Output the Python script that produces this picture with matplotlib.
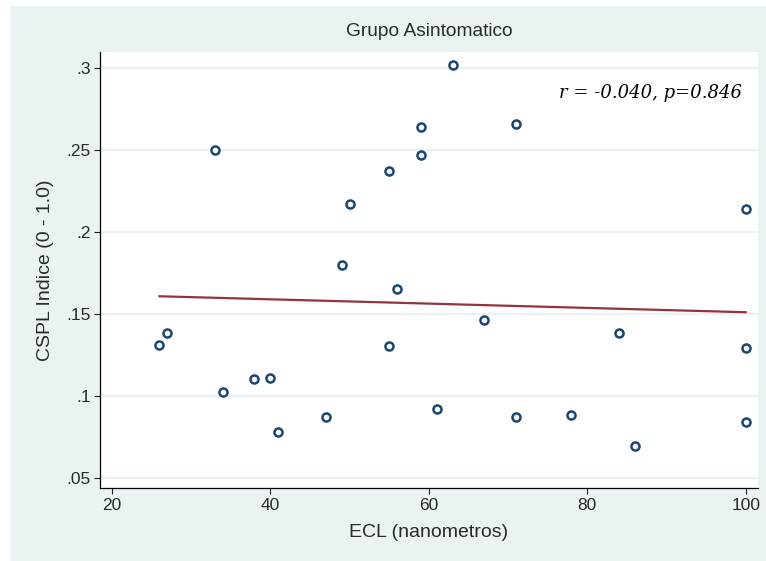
import matplotlib
matplotlib.use("Agg")
import matplotlib.pyplot as plt
from matplotlib.patches import Rectangle
import numpy as np

# ECL (nanometros) vs CSPL index, asymptomatic group
ecl = [26, 27, 33, 34, 38, 40, 41, 47, 49, 50, 55, 55, 56, 59, 59, 61, 63,
       67, 71, 71, 78, 84, 86, 100, 100, 100]
cspl = [0.131, 0.138, 0.250, 0.102, 0.110, 0.111, 0.078, 0.087, 0.180, 0.217,
        0.237, 0.130, 0.165, 0.264, 0.247, 0.092, 0.302, 0.146, 0.266, 0.087,
        0.088, 0.138, 0.069, 0.214, 0.129, 0.084]

xticks = [20, 40, 60, 80, 100]
yticks = [0.05, 0.10, 0.15, 0.20, 0.25, 0.30]
ytick_labels = [".05", ".1", ".15", ".2", ".25", ".3"]

title = "Grupo Asintomatico"
xlabel = "ECL (nanometros)"
ylabel = "CSPL Indice (0 - 1.0)"
stats_text = "r = -0.040, p=0.846"

BG = "#EAF2F3"
NAVY = "#1A476F"
FIT = "#90353B"
TXT = "#2a2a2a"

plt.rcParams["font.family"] = ["Liberation Sans", "DejaVu Sans"]

W, H = 766, 561
fig = plt.figure(figsize=(W / 100, H / 100), dpi=100, facecolor="white")
fig.patches.append(Rectangle((10 / W, 0), 1 - 10 / W, 1 - 6 / H,
                             transform=fig.transFigure, facecolor=BG,
                             edgecolor="none", zorder=-10))

ax = fig.add_axes([100 / W, 1 - 487.5 / H, 658 / W, 435.5 / H])
ax.set_zorder(1)
ax.set_facecolor("white")

# Linear fit over the observed ECL range
x = np.array(ecl, dtype=float)
y = np.array(cspl, dtype=float)
slope, intercept = np.polyfit(x, y, 1)
xf = np.array([x.min(), x.max()])
ax.plot(xf, intercept + slope * xf, color=FIT, lw=1.6, zorder=2)

ax.plot(x, y, linestyle="none", marker="o", markersize=5.8,
        markerfacecolor="white", markeredgecolor=NAVY, markeredgewidth=1.8,
        zorder=3)

ax.set_xlim(18.5, 101.55)
ax.set_ylim(0.0439, 0.3098)

ax.set_xticks(xticks)
ax.set_yticks(yticks)
ax.set_yticklabels(ytick_labels)
ax.grid(axis="y", color=BG, lw=1.6, zorder=0)
ax.set_axisbelow(True)

for side in ("top", "right"):
    ax.spines[side].set_visible(False)
for side in ("left", "bottom"):
    ax.spines[side].set_color("black")
    ax.spines[side].set_linewidth(0.9)

ax.tick_params(axis="both", direction="out", length=4.3, width=0.8,
               color="#222222", labelsize=12.5, labelcolor=TXT)
ax.tick_params(axis="y", pad=2.5)
ax.tick_params(axis="x", pad=3)

ax.set_xlabel(xlabel, fontsize=14, color=TXT, labelpad=8)
ax.set_ylabel(ylabel, fontsize=14, color=TXT, labelpad=9)

fig.text(429 / W, 1 - 31 / H, title, ha="center", va="center",
         fontsize=13.8, color=TXT)

ax.text(0.975, 0.905, stats_text, transform=ax.transAxes, ha="right",
        va="center", fontsize=13, style="italic",
        family=["DejaVu Serif"], color="black")

fig.savefig("out.png", dpi=100, facecolor=fig.get_facecolor())
